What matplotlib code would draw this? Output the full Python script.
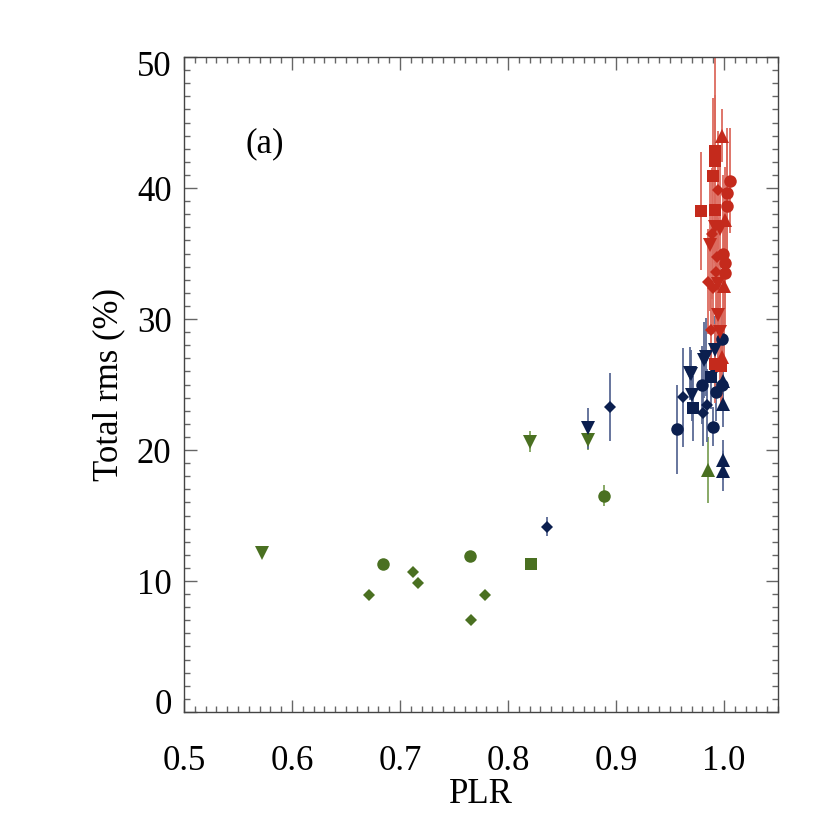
import matplotlib
matplotlib.use("Agg")
import matplotlib.pyplot as plt
from matplotlib.ticker import MultipleLocator
import matplotlib.transforms as mtransforms

plt.rcParams['font.family'] = ['Liberation Serif', 'DejaVu Serif']

# ---- data -----------------------------------------------------------
green_x = [0.572, 0.684, 0.6716, 0.712, 0.7167, 0.7645, 0.7657, 0.779, 0.821,
           0.8207, 0.8738, 0.889, 0.9855]
green_y = [12.16, 11.27, 8.9, 10.71, 9.82, 11.88, 7.05, 8.93, 11.30,
           20.63, 20.8, 16.5, 18.47]
green_err = [0.2, 0.2, 0.2, 0.2, 0.2, 0.2, 0.2, 0.2, 0.2,
             0.8, 0.8, 0.8, 2.5]
green_mk = ['v', 'o', 'D', 'D', 'D', 'o', 'D', 'D', 's',
            'v', 'v', 'o', '^']

navy_x = [0.836, 0.8738, 0.894, 0.956, 0.9624, 0.9694, 0.970, 0.9716, 0.9818,
          0.9793, 0.9803, 0.9845, 0.9895, 0.992, 0.9978, 0.9986, 0.9986, 0.9978,
          0.993, 0.9986, 0.9986, 0.9685, 0.9833, 0.9875, 0.9915]
navy_y = [14.15, 21.65, 23.3, 21.58, 24.02, 25.8, 24.2, 23.18, 26.9,
          24.96, 22.8, 23.4, 21.78, 27.6, 28.5, 23.55, 25.3, 24.96,
          24.45, 19.24, 18.4, 25.85, 27.1, 25.6, 26.2]
navy_err = [0.7, 1.55, 2.6, 3.4, 3.8, 1.8, 2.0, 2.5, 2.9,
            3.0, 2.5, 2.8, 1.5, 2.6, 2.0, 1.8, 2.0, 2.0,
            2.2, 1.5, 1.5, 2.0, 3.0, 2.5, 2.0]
navy_mk = ['D', 'v', 'D', 'o', 'D', 'v', 'v', 's', 'v',
           'o', 'D', 'D', 'o', 'v', 'o', '^', '^', 'o',
           'o', '^', '^', 'v', 'v', 's', 'D']

red_x = [0.9985, 0.9917, 0.9917, 1.0056, 0.9902, 0.9948, 1.0025, 0.9784, 0.9917,
         1.0032, 0.9917, 0.9960, 0.9888, 1.0005, 0.9870, 0.9995, 0.9933, 1.0010,
         0.9855, 0.9930, 1.0005, 0.9895, 0.9940, 0.9882, 0.9940, 1.0000, 0.9917,
         0.9980, 0.9970, 0.9960]
red_y = [44.0, 42.8, 42.1, 40.55, 40.9, 39.85, 39.6, 38.27, 38.3,
         38.6, 37.05, 36.9, 36.5, 37.6, 35.65, 35.0, 34.75, 34.25,
         32.85, 33.6, 33.5, 32.35, 32.7, 29.16, 30.3, 32.5, 26.6,
         27.1, 26.4, 29.0]
red_err = [2.0, 7.5, 5.0, 4.0, 6.0, 4.5, 5.0, 4.5, 4.0,
           5.0, 4.0, 6.0, 5.0, 4.0, 5.0, 6.0, 4.0, 3.5,
           4.0, 6.0, 4.0, 3.5, 5.0, 3.5, 4.0, 5.5, 3.0,
           3.5, 3.0, 4.0]
red_mk = ['^', 's', 's', 'o', 's', 'D', 'o', 's', 's',
          'o', 'v', 'v', 'D', '^', 'v', 'o', 'D', 'o',
          'D', 'D', 'o', 'D', 'v', 'D', 'v', '^', 's',
          '^', 's', 'v']

x_ticks = [0.5, 0.6, 0.7, 0.8, 0.9, 1.0]
x_ticklabels = ['0.5', '0.6', '0.7', '0.8', '0.9', '1.0']
y_ticks = [0, 10, 20, 30, 40, 50]
y_ticklabels = ['0', '10', '20', '30', '40', '50']

GREEN = '#4a7021'
NAVY = '#0b1f4f'
RED = '#c42a1c'

# ---- figure ---------------------------------------------------------
fig = plt.figure(figsize=(8.3, 8.3), dpi=100)
ax = fig.add_axes([0.2217, 0.1422, 0.7157, 0.789])

size = {'o': 9, 's': 8.5, '^': 9.5, 'v': 9.5, 'D': 6.5}


def draw(xs, ys, es, mks, color, ecolor):
    for x, y, e, m in zip(xs, ys, es, mks):
        ax.errorbar([x], [y], yerr=[e], fmt='none', ecolor=ecolor,
                    elinewidth=1.3, capsize=0, zorder=2)
    for x, y, m in zip(xs, ys, mks):
        ax.plot([x], [y], linestyle='none', marker=m, markersize=size[m],
                color=color, markeredgewidth=0, zorder=3)


draw(green_x, green_y, green_err, green_mk, GREEN, '#7fa35a')
draw(navy_x, navy_y, navy_err, navy_mk, NAVY, '#5a6a95')
draw(red_x, red_y, red_err, red_mk, RED, '#dc6a5e')

ax.set_xlim(0.5, 1.05)
ax.set_ylim(0, 50)
ax.set_xticks(x_ticks)
ax.set_xticklabels(x_ticklabels)
ax.set_yticks(y_ticks)
ax.set_yticklabels(y_ticklabels)
ax.xaxis.set_minor_locator(MultipleLocator(0.01))
ax.yaxis.set_minor_locator(MultipleLocator(1))

ax.tick_params(which='both', direction='in', top=True, right=True,
               color='#666666', width=1.0)
ax.tick_params(which='major', length=9, labelsize=25)
ax.tick_params(which='minor', length=4)
ax.tick_params(axis='x', which='major', pad=24)
ax.tick_params(axis='y', which='major', pad=9)
for sp in ax.spines.values():
    sp.set_color('#444444')
    sp.set_linewidth(1.0)

# IDL-style: keep end labels inside the axis range
ylabs = ax.get_yticklabels()
ylabs[0].set_transform(ylabs[0].get_transform() +
                       mtransforms.ScaledTranslation(0, 10 / 100, fig.dpi_scale_trans))
ylabs[-1].set_transform(ylabs[-1].get_transform() +
                        mtransforms.ScaledTranslation(0, -6 / 100, fig.dpi_scale_trans))

ax.set_xlabel('PLR', fontsize=25, labelpad=0)
ax.set_ylabel('Total rms (%)', fontsize=25, labelpad=8)

ax.text(0.575, 43.4, '(a)', fontsize=25, ha='center', va='center')

fig.savefig('out.png', dpi=100)
